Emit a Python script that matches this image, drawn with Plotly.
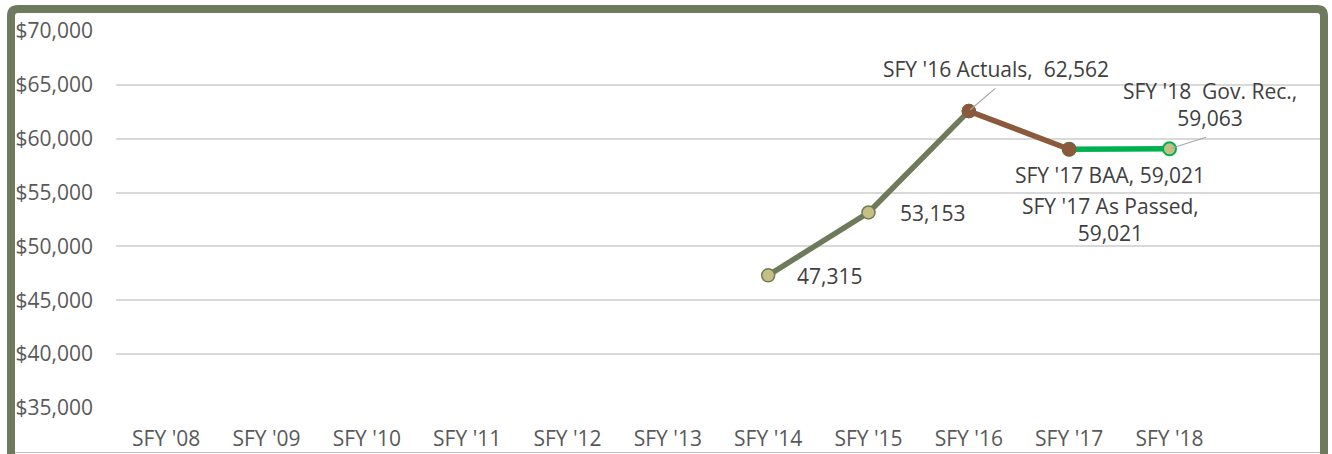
import plotly.graph_objects as go

# Fiscal-year categories on the horizontal axis
categories = ["SFY '08", "SFY '09", "SFY '10", "SFY '11", "SFY '12", "SFY '13",
              "SFY '14", "SFY '15", "SFY '16", "SFY '17", "SFY '18"]

# Historical actuals (SFY '14 - SFY '16)
actuals_x = ["SFY '14", "SFY '15", "SFY '16"]
actuals_y = [47315, 53153, 62562]

# SFY '16 actuals to SFY '17 budget
budget_x = ["SFY '16", "SFY '17"]
budget_y = [62562, 59021]

# SFY '17 budget to SFY '18 governor's recommendation
govrec_x = ["SFY '17", "SFY '18"]
govrec_y = [59021, 59063]

y_ticks = [35000, 40000, 45000, 50000, 55000, 60000, 65000, 70000]

FONT = "Open Sans"
LABEL_COLOR = "#404040"
TICK_COLOR = "#595959"
OLIVE = "#6E7B5A"
BROWN = "#8B5A3C"
GREEN = "#00B050"
KHAKI = "#C6BF84"

fig = go.Figure()

fig.add_trace(go.Scatter(
    x=actuals_x, y=actuals_y, mode="lines+markers",
    line=dict(color=OLIVE, width=5.5),
    marker=dict(size=13, color=KHAKI, line=dict(color=OLIVE, width=1.5)),
    hoverinfo="x+y", showlegend=False,
))
fig.add_trace(go.Scatter(
    x=govrec_x, y=govrec_y, mode="lines+markers",
    line=dict(color=GREEN, width=5.5),
    marker=dict(size=13, color=KHAKI, line=dict(color=GREEN, width=2)),
    hoverinfo="x+y", showlegend=False,
))
fig.add_trace(go.Scatter(
    x=budget_x, y=budget_y, mode="lines+markers",
    line=dict(color=BROWN, width=5.5),
    marker=dict(size=13, color=BROWN, line=dict(color=BROWN, width=1.5)),
    hoverinfo="x+y", showlegend=False,
))

def fmt(v):
    return f"{v:,}"

label_font = dict(family=FONT, size=21, color=LABEL_COLOR)
annotations = [
    dict(x=actuals_x[0], y=actuals_y[0], text=fmt(actuals_y[0]),
         xanchor="left", yanchor="middle", xshift=27, yshift=-1),
    dict(x=actuals_x[1], y=actuals_y[1], text=fmt(actuals_y[1]),
         xanchor="left", yanchor="middle", xshift=29, yshift=-1),
    dict(x=budget_x[0], y=budget_y[0],
         text=f"SFY '16 Actuals,\u00a0 {fmt(budget_y[0])}",
         xanchor="center", yanchor="middle", xshift=27, yshift=42),
    dict(x=budget_x[1], y=budget_y[1],
         text=f"SFY '17 BAA, {fmt(budget_y[1])}",
         xanchor="center", yanchor="middle", xshift=41, yshift=-26),
    dict(x=govrec_x[0], y=govrec_y[0],
         text=f"SFY '17 As Passed,<br>{fmt(govrec_y[0])}",
         xanchor="center", yanchor="middle", xshift=41, yshift=-70),
    dict(x=govrec_x[1], y=govrec_y[1],
         text=f"SFY '18\u00a0 Gov. Rec.,<br>{fmt(govrec_y[1])}",
         xanchor="center", yanchor="middle", xshift=40, yshift=44),
]
for a in annotations:
    a.update(showarrow=False, font=label_font, xref="x", yref="y")

# Leader lines from the points to their labels
leaders = [
    dict(x=budget_x[0], y=budget_y[0], ax=28, ay=-24),
    dict(x=govrec_x[1], y=govrec_y[1], ax=38, ay=-12),
]
for l in leaders:
    l.update(text="", showarrow=True, arrowhead=0, arrowwidth=1.2,
             arrowcolor="#A6A6A6", standoff=2, xref="x", yref="y")

fig.update_layout(annotations=annotations + leaders)

# Outer frame (paper coordinates, plot area spans 116..1320 px by 31..408 px)
def px_x(p):
    return (p - 116) / 1204

def px_y(p):
    return (408 - p) / 377

r = 7
x0, x1, y0, y1 = 11, 1324, 9, 470
path = (
    f"M {px_x(x0)},{px_y(y1)} "
    f"L {px_x(x0)},{px_y(y0 + r)} "
    f"Q {px_x(x0)},{px_y(y0)} {px_x(x0 + r)},{px_y(y0)} "
    f"L {px_x(x1 - r)},{px_y(y0)} "
    f"Q {px_x(x1)},{px_y(y0)} {px_x(x1)},{px_y(y0 + r)} "
    f"L {px_x(x1)},{px_y(y1)} Z"
)
fig.add_shape(type="path", path=path, xref="paper", yref="paper",
              line=dict(color="#6D7A5E", width=8), fillcolor="rgba(0,0,0,0)",
              layer="above")
fig.add_shape(type="line", xref="paper", yref="paper",
              x0=px_x(15), x1=px_x(1320), y0=px_y(452.5), y1=px_y(452.5),
              line=dict(color="#BFBFBF", width=1), layer="below")

fig.update_layout(
    width=1332, height=454,
    margin=dict(l=116, r=12, t=31, b=46, autoexpand=False),
    paper_bgcolor="white", plot_bgcolor="white",
    font=dict(family=FONT, size=21, color=TICK_COLOR),
    xaxis=dict(
        type="category", categoryorder="array", categoryarray=categories,
        range=[-0.5, 11.5], showgrid=False, zeroline=False, showline=False,
        ticks="", tickfont=dict(family=FONT, size=21, color=TICK_COLOR),
        ticklabelstandoff=16, automargin=False,
    ),
    yaxis=dict(
        range=[35000, 70000], tickvals=y_ticks,
        ticktext=[f"${v:,}" for v in y_ticks],
        showgrid=True, gridcolor="#D9D9D9", gridwidth=1.5,
        zeroline=False, showline=False, ticks="",
        tickfont=dict(family=FONT, size=21, color=TICK_COLOR),
        ticklabelstandoff=22, automargin=False,
    ),
)

fig.write_html("out.html")
